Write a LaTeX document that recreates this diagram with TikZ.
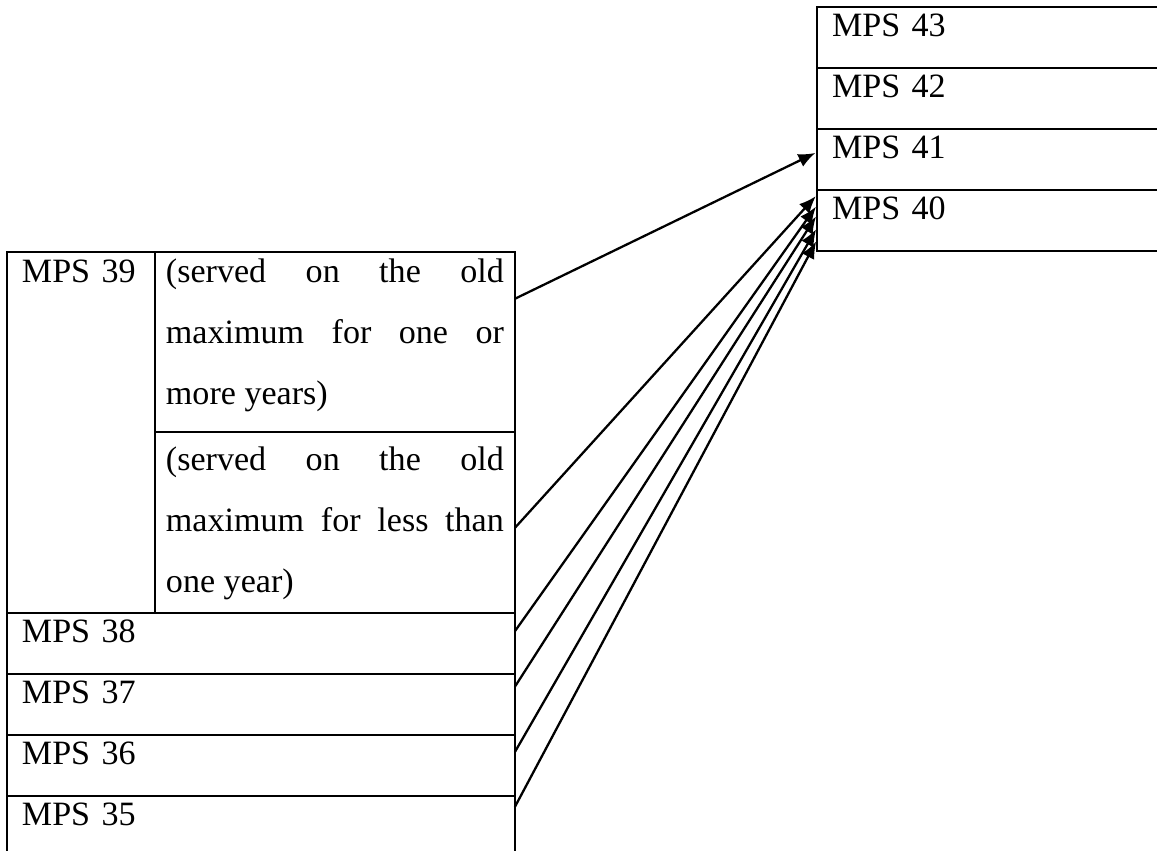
\documentclass[tikz,border=0pt]{standalone}
\usepackage{fontspec}
\setmainfont{Liberation Serif}
\usepackage{tikz}
\usetikzlibrary{arrows.meta, calc, positioning}
\hyphenpenalty=10000
\exhyphenpenalty=10000

\begin{document}
\begin{tikzpicture}[x=0.02cm, y=-0.02cm,
cell/.style={
	draw,
	rectangle,
	line width=1.3pt,
	outer sep=0pt,
	inner xsep=0.3cm,
	inner ysep=0pt,
	text height=0.6cm,
	text depth=0.62cm,
	align=left,
	font=\fontsize{19.4}{34.6}\selectfont},
wide/.style={
	cell,
	text width=9.56cm},
newrow/.style={
	cell,
	text width=6.8cm},
note/.style={
	cell,
	inner xsep=0.22cm,
	text width=6.76cm,
	align=justify},
post/.style={
	-{Latex[length=0.34cm, width=0.28cm]},
	draw,
	line width=1.3pt,
	shorten >=1pt}]

\useasboundingbox (0,0) rectangle (1157,851);
\clip (0,0) rectangle (1157,851);

%New scale
\node[newrow, anchor=north west] (c43) at (817,7) {MPS 43};
\node[newrow, below=0pt of c43] (c42) {MPS 42};
\node[newrow, below=0pt of c42] (c41) {MPS 41};
\node[newrow, below=0pt of c41] (c40) {MPS 40};

%Old scale
\node[cell, anchor=north west, text width=2.36cm, text height=0.62cm, text depth=6.6cm] (c39) at (7,252) {MPS 39};
\node[note, right=0pt of c39.north east, anchor=north west, text height=0.62cm, text depth=2.98cm] (c39a)
	{(served on the old\linebreak maximum for one or\linebreak more years)};
\node[note, below=0pt of c39a, text height=0.78cm, text depth=2.84cm] (c39b)
	{(served on the old\linebreak maximum for less than\linebreak one year)};
\node[wide, below=0pt of c39.south west, anchor=north west] (c38) {MPS 38};
\node[wide, below=0pt of c38] (c37) {MPS 37};
\node[wide, below=0pt of c37] (c36) {MPS 36};
\node[wide, below=0pt of c36] (c35) {MPS 35};

\path[post] ($(c39a.north east)!0.26!(c39a.south east)$) to ($(c41.north west)!0.38!(c41.south west)$);

\foreach \src/\from/\to in {c39b/.53/.08, c38/.30/.25, c37/.21/.41, c36/.28/.62, c35/.18/.82} {
	\path[post] ($(\src.north east)!\from!(\src.south east)$) to ($(c40.north west)!\to!(c40.south west)$);
}
\end{tikzpicture}
\end{document}
